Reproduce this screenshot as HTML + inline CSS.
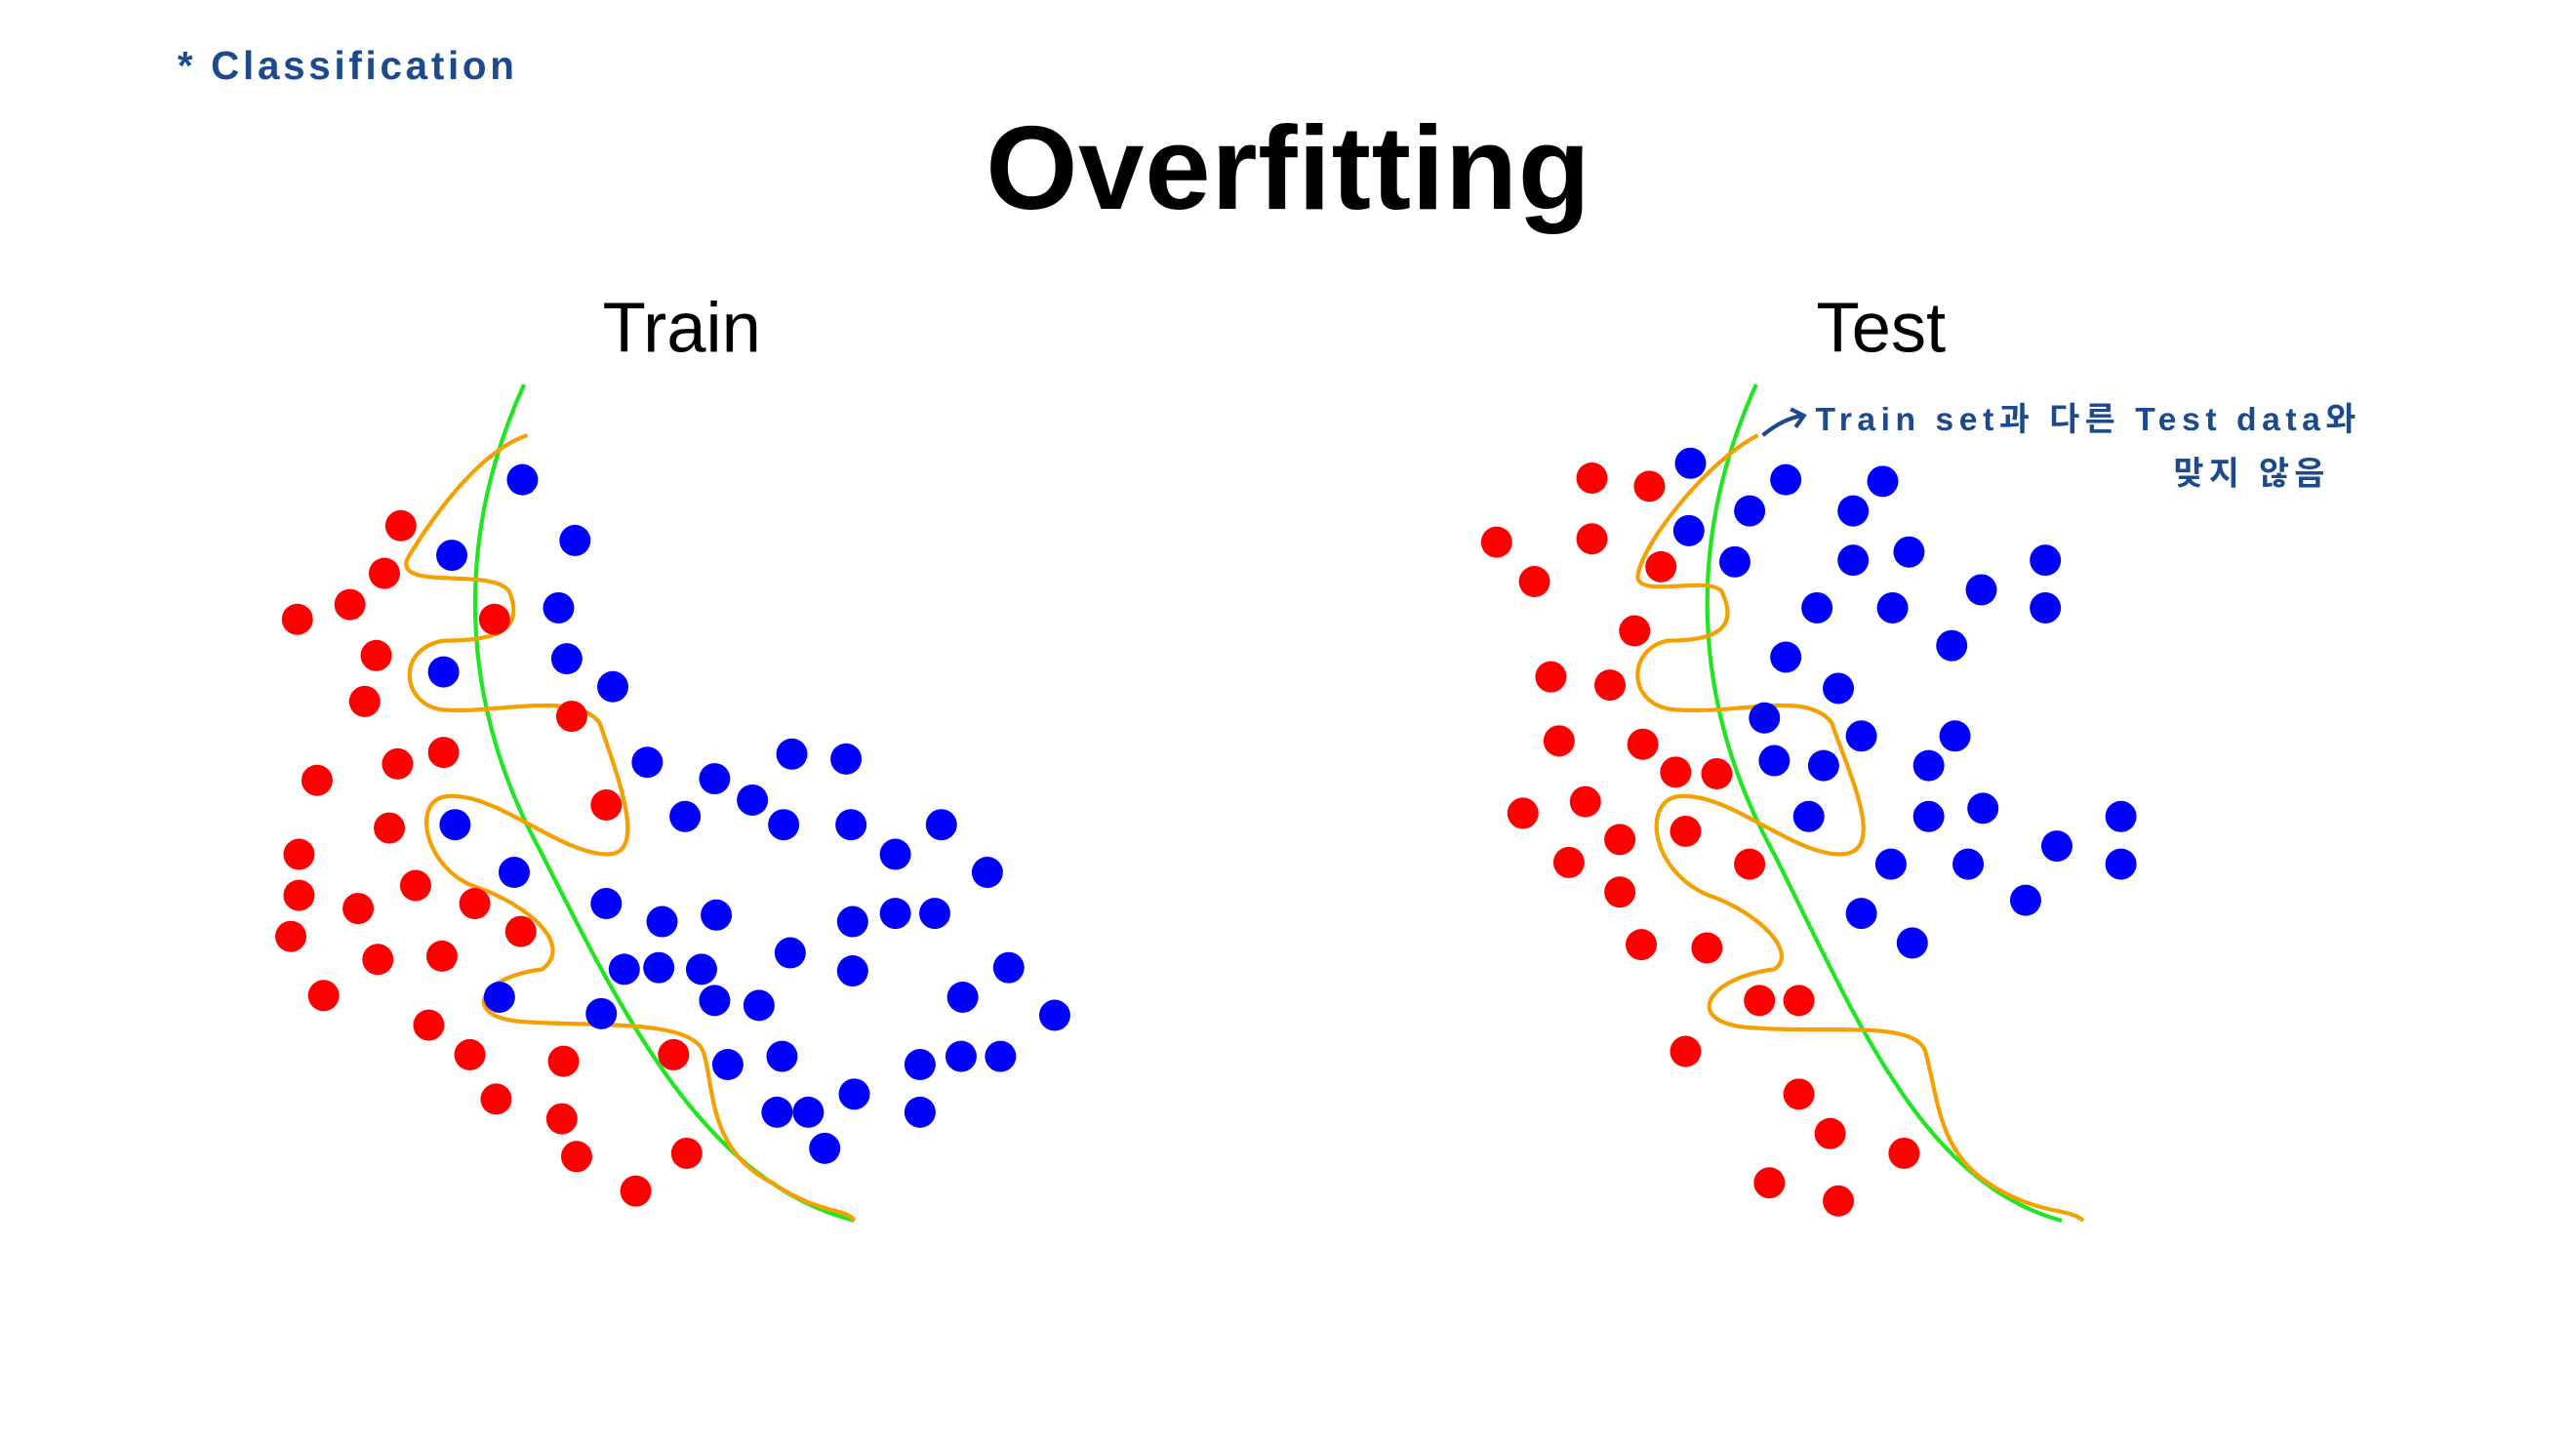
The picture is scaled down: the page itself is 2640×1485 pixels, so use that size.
<!DOCTYPE html>
<html><head><meta charset="utf-8"><style>
html,body{margin:0;padding:0;background:#fff;width:2640px;height:1485px;overflow:hidden}
svg{display:block}
.h{font-family:"Liberation Sans","Noto Sans CJK KR",sans-serif;fill:#1d4a8c;font-weight:bold}
</style></head><body>
<svg width="2640" height="1485" viewBox="0 0 1568 882" xmlns="http://www.w3.org/2000/svg">
<rect width="1568" height="882" fill="#fff"/>
<text x="108" y="48" class="h" font-size="24" textLength="205">* Classification</text>
<text x="784" y="127" text-anchor="middle" font-family="Liberation Sans,sans-serif" font-weight="bold" font-size="72" textLength="368">Overfitting</text>
<text x="415" y="214" text-anchor="middle" font-family="Liberation Sans,sans-serif" font-size="43">Train</text>
<text x="1145" y="214" text-anchor="middle" font-family="Liberation Sans,sans-serif" font-size="43">Test</text>
<text x="1105" y="262" class="h" font-size="20" textLength="329">Train set과 다른 Test data와</text>
<text x="1323" y="295" class="h" font-size="20" textLength="92">맞지 않음</text>
<path d="M1073,265 Q1085,255 1097,253 M1090,249 L1098,253 L1093,260" stroke="#1d4a8c" stroke-width="2.5" fill="none"/>
<g fill="none" stroke-width="2.5">
<path stroke="#1fe61f" d="M319,234 C280,320 275,420 330,520 C380,620 430,720 520,743"/>
<path stroke="#1fe61f" d="M1069,234 C1030,320 1025,420 1080,520 C1130,620 1170,720 1255,743"/>
<path stroke="#f5a000" d="M321,265 C290,275 260,320 248,340 C240,360 300,345 310,360 C320,385 300,390 270,390 C240,395 245,430 270,432 C300,435 350,420 365,440 C375,470 395,520 370,520 C340,520 300,480 270,485 C250,490 260,530 290,540 C320,550 350,575 330,590 C290,595 280,620 320,622 C360,625 420,620 428,640 C435,660 430,700 470,720 C500,740 515,735 520,743"/>
<path stroke="#f5a000" d="M1070,265 C1040,280 1000,330 997,350 C995,365 1040,350 1048,360 C1060,385 1040,390 1015,390 C990,395 990,430 1020,432 C1060,435 1100,420 1115,440 C1125,470 1150,520 1120,520 C1090,520 1050,480 1020,485 C1000,490 1005,530 1040,545 C1070,555 1095,580 1080,590 C1040,595 1025,620 1060,625 C1110,630 1165,620 1172,640 C1180,670 1180,700 1210,720 C1240,740 1260,735 1268,743"/>
</g>
<g fill="#f00">
<circle cx="244" cy="320" r="9.5"/><circle cx="234" cy="349" r="9.5"/><circle cx="213" cy="368" r="9.5"/><circle cx="181" cy="377" r="9.5"/><circle cx="301" cy="377" r="9.5"/><circle cx="229" cy="399" r="9.5"/><circle cx="222" cy="427" r="9.5"/><circle cx="348" cy="436" r="9.5"/><circle cx="270" cy="458" r="9.5"/><circle cx="242" cy="465" r="9.5"/><circle cx="193" cy="475" r="9.5"/><circle cx="369" cy="490" r="9.5"/><circle cx="237" cy="504" r="9.5"/><circle cx="182" cy="520" r="9.5"/><circle cx="253" cy="539" r="9.5"/><circle cx="182" cy="545" r="9.5"/><circle cx="218" cy="553" r="9.5"/><circle cx="289" cy="550" r="9.5"/><circle cx="317" cy="567" r="9.5"/><circle cx="177" cy="570" r="9.5"/><circle cx="269" cy="582" r="9.5"/><circle cx="230" cy="584" r="9.5"/><circle cx="197" cy="606" r="9.5"/><circle cx="261" cy="624" r="9.5"/><circle cx="286" cy="642" r="9.5"/><circle cx="343" cy="646" r="9.5"/><circle cx="410" cy="642" r="9.5"/><circle cx="302" cy="669" r="9.5"/><circle cx="342" cy="681" r="9.5"/><circle cx="351" cy="704" r="9.5"/><circle cx="418" cy="702" r="9.5"/><circle cx="387" cy="725" r="9.5"/>
<circle cx="969" cy="291" r="9.5"/><circle cx="1004" cy="296" r="9.5"/><circle cx="911" cy="330" r="9.5"/><circle cx="969" cy="328" r="9.5"/><circle cx="934" cy="354" r="9.5"/><circle cx="1011" cy="345" r="9.5"/><circle cx="995" cy="384" r="9.5"/><circle cx="944" cy="412" r="9.5"/><circle cx="980" cy="417" r="9.5"/><circle cx="949" cy="451" r="9.5"/><circle cx="1000" cy="453" r="9.5"/><circle cx="1020" cy="470" r="9.5"/><circle cx="1045" cy="471" r="9.5"/><circle cx="927" cy="495" r="9.5"/><circle cx="965" cy="488" r="9.5"/><circle cx="986" cy="511" r="9.5"/><circle cx="1026" cy="506" r="9.5"/><circle cx="955" cy="525" r="9.5"/><circle cx="1065" cy="526" r="9.5"/><circle cx="986" cy="543" r="9.5"/><circle cx="999" cy="575" r="9.5"/><circle cx="1039" cy="577" r="9.5"/><circle cx="1071" cy="609" r="9.5"/><circle cx="1095" cy="609" r="9.5"/><circle cx="1026" cy="640" r="9.5"/><circle cx="1095" cy="666" r="9.5"/><circle cx="1114" cy="690" r="9.5"/><circle cx="1159" cy="702" r="9.5"/><circle cx="1077" cy="720" r="9.5"/><circle cx="1119" cy="731" r="9.5"/>
</g>
<g fill="#00f">
<circle cx="318" cy="292" r="9.5"/><circle cx="350" cy="329" r="9.5"/><circle cx="275" cy="338" r="9.5"/><circle cx="340" cy="370" r="9.5"/><circle cx="345" cy="401" r="9.5"/><circle cx="270" cy="409" r="9.5"/><circle cx="373" cy="418" r="9.5"/><circle cx="394" cy="464" r="9.5"/><circle cx="435" cy="474" r="9.5"/><circle cx="482" cy="459" r="9.5"/><circle cx="515" cy="462" r="9.5"/><circle cx="458" cy="487" r="9.5"/><circle cx="417" cy="497" r="9.5"/><circle cx="477" cy="502" r="9.5"/><circle cx="518" cy="502" r="9.5"/><circle cx="573" cy="502" r="9.5"/><circle cx="277" cy="502" r="9.5"/><circle cx="313" cy="531" r="9.5"/><circle cx="545" cy="520" r="9.5"/><circle cx="601" cy="531" r="9.5"/><circle cx="369" cy="550" r="9.5"/><circle cx="403" cy="561" r="9.5"/><circle cx="436" cy="557" r="9.5"/><circle cx="519" cy="561" r="9.5"/><circle cx="545" cy="556" r="9.5"/><circle cx="569" cy="556" r="9.5"/><circle cx="481" cy="580" r="9.5"/><circle cx="380" cy="590" r="9.5"/><circle cx="401" cy="589" r="9.5"/><circle cx="427" cy="590" r="9.5"/><circle cx="519" cy="591" r="9.5"/><circle cx="614" cy="589" r="9.5"/><circle cx="304" cy="607" r="9.5"/><circle cx="435" cy="609" r="9.5"/><circle cx="462" cy="612" r="9.5"/><circle cx="586" cy="607" r="9.5"/><circle cx="642" cy="618" r="9.5"/><circle cx="366" cy="617" r="9.5"/><circle cx="476" cy="643" r="9.5"/><circle cx="443" cy="648" r="9.5"/><circle cx="560" cy="648" r="9.5"/><circle cx="585" cy="643" r="9.5"/><circle cx="609" cy="643" r="9.5"/><circle cx="520" cy="666" r="9.5"/><circle cx="473" cy="677" r="9.5"/><circle cx="492" cy="677" r="9.5"/><circle cx="560" cy="677" r="9.5"/><circle cx="502" cy="699" r="9.5"/>
<circle cx="1029" cy="282" r="9.5"/><circle cx="1087" cy="292" r="9.5"/><circle cx="1146" cy="293" r="9.5"/><circle cx="1065" cy="311" r="9.5"/><circle cx="1128" cy="311" r="9.5"/><circle cx="1028" cy="323" r="9.5"/><circle cx="1056" cy="342" r="9.5"/><circle cx="1128" cy="341" r="9.5"/><circle cx="1162" cy="336" r="9.5"/><circle cx="1245" cy="341" r="9.5"/><circle cx="1106" cy="370" r="9.5"/><circle cx="1152" cy="370" r="9.5"/><circle cx="1206" cy="359" r="9.5"/><circle cx="1245" cy="370" r="9.5"/><circle cx="1188" cy="393" r="9.5"/><circle cx="1087" cy="400" r="9.5"/><circle cx="1119" cy="419" r="9.5"/><circle cx="1074" cy="437" r="9.5"/><circle cx="1133" cy="448" r="9.5"/><circle cx="1190" cy="448" r="9.5"/><circle cx="1080" cy="463" r="9.5"/><circle cx="1110" cy="466" r="9.5"/><circle cx="1174" cy="466" r="9.5"/><circle cx="1101" cy="497" r="9.5"/><circle cx="1174" cy="497" r="9.5"/><circle cx="1207" cy="492" r="9.5"/><circle cx="1291" cy="497" r="9.5"/><circle cx="1151" cy="526" r="9.5"/><circle cx="1198" cy="526" r="9.5"/><circle cx="1252" cy="515" r="9.5"/><circle cx="1291" cy="526" r="9.5"/><circle cx="1133" cy="556" r="9.5"/><circle cx="1233" cy="548" r="9.5"/><circle cx="1164" cy="574" r="9.5"/>
</g>
</svg>
</body></html>
